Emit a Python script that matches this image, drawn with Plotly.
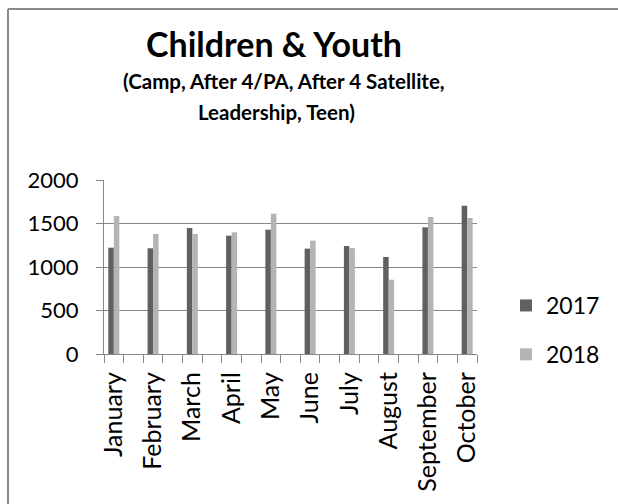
import plotly.graph_objects as go

months = ["January", "February", "March", "April", "May", "June",
          "July", "August", "September", "October"]
values_2017 = [1222, 1215, 1448, 1360, 1429, 1211, 1241, 1115, 1456, 1705]
values_2018 = [1586, 1379, 1379, 1398, 1613, 1303, 1218, 854, 1575, 1563]
y_ticks = [0, 500, 1000, 1500, 2000]

title_text = "Children & Youth"
subtitle_lines = ["(Camp, After 4/PA, After 4 Satellite,", "Leadership, Teen)"]

FONT = "Lato"
W, H = 618, 504
L, R, T, B = 104, 141, 180, 150
PW, PH = W - L - R, H - T - B

# every month sits on an even slot; blank slots between months (as in the source sheet)
xpos = [2 * i for i in range(len(months))]

def px_x(px):
    return (px - L) / PW

def px_y(py):
    return (H - B - py) / PH

fig = go.Figure()
fig.add_trace(go.Bar(x=xpos, y=values_2017, name="2017", marker_color="#606060",
                     marker_line_width=0, legendgroup="a"))
fig.add_trace(go.Bar(x=xpos, y=values_2018, name="2018", marker_color="#b4b4b4",
                     marker_line_width=0, legendgroup="b"))

gray = "#878787"
fig.update_layout(
    width=W, height=H,
    margin=dict(l=L, r=R, t=T, b=B, autoexpand=False),
    paper_bgcolor="white", plot_bgcolor="white",
    barmode="group", bargap=0.72, bargroupgap=0,
    font=dict(family=FONT, size=22, color="#000000"),
    showlegend=True,
    legend=dict(x=px_x(506), y=px_y(284), xanchor="left", yanchor="top",
                font=dict(family=FONT, size=23, color="#000000"),
                tracegroupgap=16, itemwidth=30, bgcolor="rgba(0,0,0,0)"),
    xaxis=dict(range=[-0.5, 2 * len(months) - 1.5], tickmode="array",
               tickvals=xpos, ticktext=months, tickangle=-90, ticks="",
               showgrid=False, zeroline=False, showline=True, linecolor=gray,
               linewidth=1.3, ticklabelstandoff=7,
               tickfont=dict(family=FONT, size=25, color="#000000"),
               minor=dict(ticks="outside", tick0=-0.5, dtick=1, ticklen=8,
                          tickcolor=gray, tickwidth=1.3, showgrid=False)),
    yaxis=dict(range=[0, 2000], tickmode="array", tickvals=y_ticks,
               showgrid=True, gridcolor=gray, gridwidth=1.3, zeroline=False,
               showline=True, linecolor=gray, linewidth=1.3,
               ticks="outside", ticklen=7, tickcolor=gray, tickwidth=1.3,
               ticklabelstandoff=13,
               tickfont=dict(family=FONT, size=22, color="#000000")),
)

annotations = [
    dict(text="<b>" + title_text + "</b>", x=px_x(274), y=px_y(43),
         font=dict(family=FONT, size=34, color="#000000")),
    dict(text="<b>" + subtitle_lines[0] + "</b>", x=px_x(284), y=px_y(81),
         font=dict(family=FONT, size=20.5, color="#000000")),
    dict(text="<b>" + subtitle_lines[1] + "</b>", x=px_x(276), y=px_y(112),
         font=dict(family=FONT, size=20.5, color="#000000")),
]
for a in annotations:
    a.update(xref="paper", yref="paper", showarrow=False,
             xanchor="center", yanchor="middle")
fig.update_layout(annotations=annotations)

fig.update_layout(shapes=[
    dict(type="line", xref="paper", yref="paper", x0=px_x(8), x1=px_x(620),
         y0=px_y(9), y1=px_y(9), line=dict(color="#8a8a8a", width=2)),
    dict(type="line", xref="paper", yref="paper", x0=px_x(8), x1=px_x(8),
         y0=px_y(9), y1=px_y(506), line=dict(color="#8a8a8a", width=2)),
])

fig.write_html("out.html")
